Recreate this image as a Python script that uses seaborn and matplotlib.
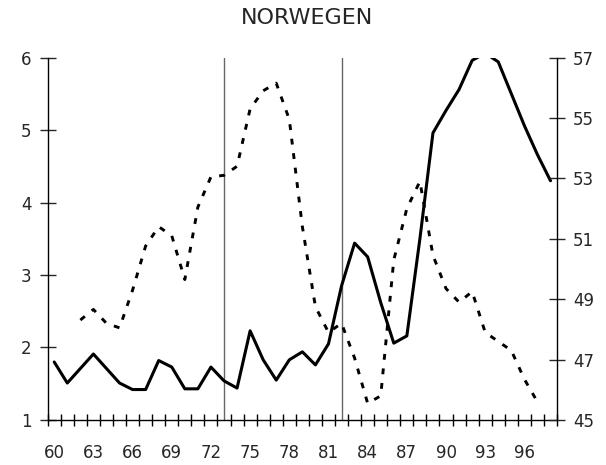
import numpy as np
import pandas as pd
import matplotlib
matplotlib.use("Agg")
import matplotlib.pyplot as plt
import seaborn as sns

# Linke Achse (durchgezogene Linie), Jahre 60-98
jahre_links = list(range(60, 99))
werte_links = [1.80, 1.51, 1.71, 1.91, 1.71, 1.51, 1.42, 1.42, 1.82, 1.73,
               1.43, 1.43, 1.73, 1.54, 1.44, 2.23, 1.83, 1.55, 1.83, 1.94,
               1.76, 2.05, 2.85, 3.44, 3.25, 2.62, 2.06, 2.16, 3.50, 4.96,
               5.27, 5.56, 5.96, 6.06, 5.94, 5.50, 5.06, 4.66, 4.30]

# Rechte Achse (gestrichelte Linie), Jahre 62-97
jahre_rechts = list(range(62, 98))
werte_rechts = [48.31, 48.66, 48.20, 48.05, 49.30, 50.76, 51.40, 51.10, 49.65, 52.05,
                53.05, 53.10, 53.40, 55.30, 55.90, 56.15, 54.95, 51.40, 48.75, 47.90,
                48.20, 47.05, 45.55, 45.80, 50.30, 52.00, 52.90, 50.45, 49.35, 48.90,
                49.25, 47.90, 47.60, 47.30, 46.35, 45.60]

x_labels = list(range(60, 97, 3))
links_ticks = [1, 2, 3, 4, 5, 6]
rechts_ticks = [45, 47, 49, 51, 53, 55, 57]
marker_jahre = [73, 82]

df_l = pd.DataFrame({"jahr": jahre_links, "wert": werte_links})
df_r = pd.DataFrame({"jahr": jahre_rechts, "wert": werte_rechts})

sns.set_style("ticks")
plt.rcParams["font.family"] = ["DejaVu Sans"]

fig = plt.figure(figsize=(6.06, 4.65), dpi=100)
ax = fig.add_axes([0.0787, 0.0968, 0.8405, 0.7795])
ax2 = ax.twinx()

for j in marker_jahre:
    ax.axvline(j, color="0.4", lw=1.0, zorder=1)

sns.lineplot(data=df_r, x="jahr", y="wert", ax=ax2, color="black",
             lw=2.1, linestyle=(0, (2.0, 3.0)), zorder=2)
sns.lineplot(data=df_l, x="jahr", y="wert", ax=ax, color="black",
             lw=2.2, zorder=3)

ax.set_xlim(59.5, 98.5)
ax.set_ylim(1, 6)
ax2.set_ylim(45, 57)

ax.set_xticks(np.arange(59.5, 99, 1))
ax.set_xticklabels([])
ax.set_xticks(x_labels, minor=True)
ax.set_xticklabels([str(v) for v in x_labels], minor=True)
ax.tick_params(axis="x", which="major", direction="inout", length=8,
               width=1, color="black")
ax.tick_params(axis="x", which="minor", length=0, labelsize=12, pad=17)

ax.set_yticks(links_ticks)
ax.tick_params(axis="y", direction="inout", length=11, width=1,
               labelsize=12, pad=6)
ax2.set_yticks(rechts_ticks)
ax2.tick_params(axis="y", direction="inout", length=11, width=1,
                labelsize=12, pad=6)

for a in (ax, ax2):
    a.set_xlabel("")
    a.set_ylabel("")
    a.spines["top"].set_visible(False)
    for s in a.spines.values():
        s.set_color("black")
        s.set_linewidth(1)
ax.spines["right"].set_visible(False)
ax2.spines["left"].set_visible(False)
ax2.spines["bottom"].set_visible(False)

fig.text(0.507, 0.961, "NORWEGEN", ha="center", va="center", fontsize=16)

fig.savefig("out.png", dpi=100)
